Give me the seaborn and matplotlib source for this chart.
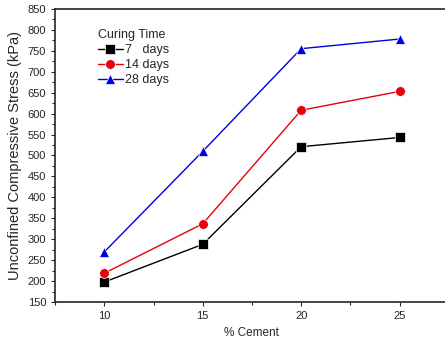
import matplotlib
matplotlib.use('Agg')
import matplotlib.pyplot as plt
import pandas as pd
import seaborn as sns
from matplotlib.ticker import MultipleLocator

# Data
cement = [10, 15, 20, 25]
days_7 = [198, 288, 521, 543]
days_14 = [219, 337, 608, 653]
days_28 = [270, 510, 755, 778]
series_labels = ['7   days', '14 days', '28 days']

df = pd.DataFrame({
    'cement': cement * 3,
    'stress': days_7 + days_14 + days_28,
    'curing': [series_labels[0]] * 4 + [series_labels[1]] * 4 + [series_labels[2]] * 4,
})

sns.set_style('ticks')
plt.rcParams['font.family'] = ['Liberation Sans', 'DejaVu Sans']

fig = plt.figure(figsize=(4.45, 3.41), dpi=100)
ax = fig.add_axes([0.124, 0.114, 0.88, 0.86])

f = sns.lineplot(data=df, x='cement', y='stress', hue='curing', style='curing',
                 palette=['black', '#e8000b', '#0000e0'],
                 markers=['s', 'o', '^'], dashes=False, markersize=7,
                 markeredgewidth=0.5, linewidth=1, ax=ax)

f.set_xlim(7.5, 27.4)
f.set_ylim(150, 850)
f.xaxis.set_major_locator(MultipleLocator(5))
f.xaxis.set_minor_locator(MultipleLocator(2.5))
f.yaxis.set_major_locator(MultipleLocator(50))
f.yaxis.set_minor_locator(MultipleLocator(25))
f.tick_params(which='major', labelsize=8, length=3, width=0.8)
f.tick_params(which='minor', length=2, width=0.8)
for s in ['top', 'bottom', 'left']:
    f.spines[s].set_linewidth(1.2)
f.spines['right'].set_visible(False)

f.set_xlabel('% Cement', fontsize=8.5)
f.set_ylabel('Unconfined Compressive Stress (kPa)', fontsize=10.5)

leg = f.legend(title='Curing Time', loc='upper left', bbox_to_anchor=(0.08, 0.97),
               frameon=False, fontsize=9, title_fontsize=9, handlelength=2,
               handletextpad=0.2, labelspacing=0.25, alignment='left')

fig.savefig('out.png', dpi=100)
